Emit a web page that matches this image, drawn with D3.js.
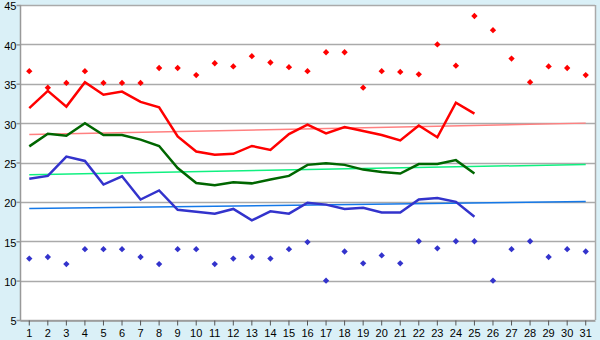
<!DOCTYPE html>
<html>
<head>
<meta charset="utf-8">
<script src="https://cdn.jsdelivr.net/npm/d3@7"></script>
<style>
  body { margin: 0; background: #daf0f7; }
  svg { display: block; font-family: "DejaVu Sans", Verdana, sans-serif; }
</style>
</head>
<body>
<figure id="chart" style="margin:0"></figure>
<script>
// data
const days = d3.range(1, 32).map(String)
const maxPoints = [36.6, 34.5, 35.1, 36.6, 35.1, 35.1, 35.1, 37.0, 37.0, 36.1,
  37.6, 37.2, 38.5, 37.7, 37.1, 36.6, 39.0, 39.0, 34.5, 36.6,
  36.5, 36.2, 40.0, 37.3, 43.6, 41.8, 38.2, 35.2, 37.2, 37.0, 36.1]
const minPoints = [12.8, 13.0, 12.1, 14.0, 14.0, 14.0, 13.0, 12.1, 14.0, 14.0,
  12.1, 12.8, 13.0, 12.8, 14.0, 14.9, 10.0, 13.7, 12.2, 13.2,
  12.2, 15.0, 14.1, 15.0, 15.0, 10.0, 14.0, 15.0, 13.0, 14.0, 13.7]
const highLine = [31.9, 34.1, 32.1, 35.2, 33.6, 34.0, 32.7, 32.0, 28.3, 26.4,
  26.0, 26.1, 27.1, 26.6, 28.6, 29.8, 28.7, 29.5, 29.0, 28.5,
  27.8, 29.7, 28.2, 32.6, 31.2]
const meanLine = [27.05, 28.66, 28.4, 30.0, 28.5, 28.5, 27.9, 27.1, 24.3, 22.4,
  22.1, 22.5, 22.35, 22.85, 23.3, 24.7, 24.9, 24.7, 24.1, 23.8,
  23.6, 24.8, 24.8, 25.3, 23.6]
const lowLine = [22.95, 23.3, 25.75, 25.2, 22.2, 23.25, 20.3, 21.45, 19.0, 18.75,
  18.5, 19.1, 17.65, 18.8, 18.5, 19.9, 19.65, 19.1, 19.25, 18.65,
  18.65, 20.3, 20.5, 20.0, 18.1]
// trend lines: value at day 1 and day 31
const highTrend = [28.55, 30.0]
const meanTrend = [23.45, 24.75]
const lowTrend = [19.15, 20.05]
const yTicks = [5, 10, 15, 20, 25, 30, 35, 40, 45]

const width = 600
const height = 340
const margin = { top: 5, right: 5, bottom: 20, left: 20 }

const svg = d3.select("figure#chart")
  .append("svg")
  .attr("width", width)
  .attr("height", height)

const x = d3.scaleBand()
  .domain(days)
  .range([margin.left, width - margin.right])

const cx = d => x(d) + x.bandwidth() / 2

const y = d3.scaleLinear()
  .domain([5, 45])
  .range([height - margin.bottom, margin.top])

// plot area
svg.append("rect")
  .attr("x", margin.left)
  .attr("y", margin.top)
  .attr("width", width - margin.left - margin.right)
  .attr("height", height - margin.top - margin.bottom)
  .attr("fill", "#fff")

// gridlines
svg.append("g")
  .selectAll("line")
  .data(yTicks)
  .enter()
  .append("line")
  .attr("x1", margin.left)
  .attr("x2", width - margin.right)
  .attr("y1", d => Math.round(y(d)) + 0.5)
  .attr("y2", d => Math.round(y(d)) + 0.5)
  .attr("stroke", "#aaa")
  .attr("stroke-width", 1.5)

// right border
svg.append("line")
  .attr("x1", width - margin.right + 0.5)
  .attr("x2", width - margin.right + 0.5)
  .attr("y1", margin.top)
  .attr("y2", height - margin.bottom)
  .attr("stroke", "#aaa")
  .attr("stroke-width", 1.5)

// axes
const yAxis = svg.append("g")
  .attr("transform", "translate(" + (margin.left + 0.5) + ",0)")
  .call(d3.axisLeft(y).tickValues(yTicks).tickSize(4).tickPadding(0))
yAxis.selectAll("path, line").attr("stroke", "#999").attr("stroke-width", 1.5)
yAxis.selectAll("text").attr("fill", "#000").attr("dy", "0.45em").style("font-size", "11px")
yAxis.select(".domain").attr("d", "M0," + y(45) + "V" + y(5))

const xAxis = svg.append("g")
  .attr("transform", "translate(0," + (height - margin.bottom + 0.5) + ")")
  .call(d3.axisBottom(x).tickSize(5).tickPadding(4).tickSizeOuter(0))
xAxis.selectAll("path, line").attr("stroke", "#555")
xAxis.select(".domain").attr("stroke", "#999").attr("stroke-width", 1.5)
xAxis.selectAll("text").attr("fill", "#000").style("font-size", "11px")

// trend lines
const trends = [
  { v: highTrend, color: "#ff8080" },
  { v: meanTrend, color: "#10f080" },
  { v: lowTrend, color: "#1478e8" }
]
svg.append("g")
  .selectAll("line")
  .data(trends)
  .enter()
  .append("line")
  .attr("x1", cx(days[0]))
  .attr("x2", cx(days[days.length - 1]))
  .attr("y1", d => y(d.v[0]))
  .attr("y2", d => y(d.v[1]))
  .attr("stroke", d => d.color)
  .attr("stroke-width", 1.5)

// main lines
const line = d3.line()
  .x((d, i) => cx(days[i]))
  .y(d => y(d))

const series = [
  { v: highLine, color: "#ff0000" },
  { v: meanLine, color: "#006600" },
  { v: lowLine, color: "#3333cc" }
]
svg.append("g")
  .selectAll("path")
  .data(series)
  .enter()
  .append("path")
  .attr("d", d => line(d.v))
  .attr("fill", "none")
  .attr("stroke", d => d.color)
  .attr("stroke-width", 2.5)

// diamonds
const diamond = d3.symbol(d3.symbolSquare, 20)
const pts = [
  { v: maxPoints, color: "#ff0000" },
  { v: minPoints, color: "#3333cc" }
]
pts.forEach(p => {
  svg.append("g")
    .selectAll("path")
    .data(p.v)
    .enter()
    .append("path")
    .attr("d", diamond)
    .attr("transform", (d, i) => "translate(" + cx(days[i]) + "," + y(d) + ") rotate(45)")
    .attr("fill", p.color)
})
</script>
</body>
</html>
